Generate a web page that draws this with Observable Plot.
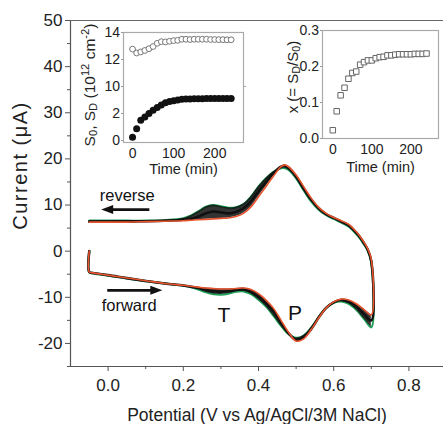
<!DOCTYPE html>
<html>
<head>
<meta charset="utf-8">
<script src="https://cdn.jsdelivr.net/npm/d3@7"></script>
<script src="https://cdn.jsdelivr.net/npm/@observablehq/plot@0.6"></script>
<style>
  html, body { margin: 0; padding: 0; background: #fff; }
  #chart { position: relative; width: 443px; height: 424px; overflow: hidden; font-family: 'Liberation Sans', Arial, sans-serif; }
  #chart svg { position: absolute; background: transparent; overflow: visible; }
</style>
</head>
<body>
<div id="chart"></div>
<script>
// ---------------- Main CV data (potential in V, current in µA) ----------------
const potentialFwd = [-0.05, -0.05, -0.04, 0.0, 0.05, 0.1, 0.15, 0.2, 0.22, 0.24, 0.26, 0.28, 0.3, 0.32, 0.34, 0.36, 0.38, 0.4, 0.42, 0.44, 0.46, 0.48, 0.5, 0.52, 0.54, 0.56, 0.58, 0.6, 0.62, 0.64, 0.66, 0.68, 0.7];
const currentFwdFirst = [0, -4.6, -4.8, -5.3, -5.9, -6.5, -7.0, -7.5, -7.8, -8.3, -8.9, -9.3, -9.4, -9.2, -8.8, -8.7, -9.3, -10.5, -12.0, -14.0, -16.2, -18.0, -18.8, -18.3, -16.6, -14.3, -12.3, -11.2, -10.9, -11.4, -12.7, -14.6, -16.5];
const currentFwdMid   = [0, -4.5, -4.75, -5.2, -5.85, -6.45, -7.0, -7.45, -7.7, -8.0, -8.4, -8.7, -8.8, -8.7, -8.4, -8.3, -8.8, -9.9, -11.3, -13.0, -15.5, -17.8, -19.2, -18.7, -16.9, -14.4, -12.3, -11.1, -10.6, -11.0, -12.0, -13.6, -15.0];
const currentFwdLast  = [0, -4.5, -4.7, -5.2, -5.8, -6.4, -7.0, -7.4, -7.6, -7.8, -8.0, -8.1, -8.2, -8.2, -8.1, -8.0, -8.3, -9.2, -10.6, -12.4, -15.0, -17.6, -19.5, -19.0, -17.0, -14.5, -12.3, -11.0, -10.4, -10.6, -11.4, -12.6, -13.8];

const potentialRev = [0.7, 0.69, 0.68, 0.67, 0.66, 0.64, 0.62, 0.6, 0.58, 0.56, 0.54, 0.52, 0.5, 0.48, 0.47, 0.46, 0.44, 0.42, 0.4, 0.38, 0.36, 0.34, 0.32, 0.3, 0.28, 0.26, 0.24, 0.22, 0.2, 0.15, 0.1, 0.05, 0.0, -0.05];
const currentRevFirst = [-2.5, 0.2, 1.5, 2.7, 3.7, 5.3, 6.2, 7.0, 7.8, 9.0, 10.8, 13.2, 15.8, 17.6, 18.0, 18.0, 17.2, 15.8, 14.0, 11.8, 10.2, 9.5, 9.4, 9.7, 10.0, 9.6, 8.6, 7.7, 7.1, 6.7, 6.6, 6.6, 6.6, 6.6];
const currentRevMid   = [-2.2, 0.4, 1.8, 3.0, 4.0, 5.6, 6.4, 7.2, 8.0, 9.3, 11.2, 13.6, 16.2, 18.1, 18.5, 18.3, 16.9, 15.0, 13.0, 10.8, 9.3, 8.5, 8.2, 8.4, 8.6, 8.2, 7.5, 7.0, 6.8, 6.6, 6.5, 6.45, 6.4, 6.4];
const currentRevLast  = [-1.8, 0.6, 2.0, 3.2, 4.2, 5.8, 6.6, 7.3, 8.2, 9.5, 11.5, 14.0, 16.5, 18.3, 18.7, 18.3, 16.3, 14.0, 11.8, 9.6, 8.2, 7.5, 7.2, 7.1, 7.0, 6.9, 6.8, 6.7, 6.6, 6.5, 6.4, 6.3, 6.3, 6.3];

const xTicks = [0, 0.2, 0.4, 0.6, 0.8];
const xMinorTicks = [0.1, 0.3, 0.5, 0.7];
const yTicks = [-20, -10, 0, 10, 20, 30, 40, 50];
const yMinorTicks = [-25, -15, -5, 5, 15, 25, 35, 45];

// annotations (data coordinates)
const labels = [
  {x: 0.051, y: 12.1, text: "reverse", size: 16.5},
  {x: 0.056, y: -11.9, text: "forward", size: 16.5},
  {x: 0.308, y: -13.9, text: "T", size: 21},
  {x: 0.497, y: -13.5, text: "P", size: 21}
];
const arrows = [
  {x1: 0.111, x2: -0.017, y: 8.9},
  {x1: -0.001, x2: 0.1455, y: -8.6}
];

// ---------------- Inset data ----------------
const timeMin = [0, 10, 20, 30, 40, 50, 60, 70, 80, 90, 100, 110, 120, 130, 140, 150, 160, 170, 180, 190, 200, 210, 220, 230, 240];
const S0 = [12.77, 12.48, 12.56, 12.67, 12.8, 12.96, 13.2, 13.32, 13.3, 13.35, 13.4, 13.42, 13.5, 13.5, 13.48, 13.5, 13.5, 13.5, 13.5, 13.48, 13.48, 13.47, 13.47, 13.46, 13.46];
const SD = [0.25, 0.875, 1.5, 1.75, 2.0, 2.25, 2.45, 2.63, 2.8, 2.88, 2.95, 3.0, 3.05, 3.08, 3.08, 3.1, 3.1, 3.1, 3.12, 3.12, 3.12, 3.12, 3.12, 3.12, 3.12];
const xRatio = [0.023, 0.0756, 0.12, 0.141, 0.166, 0.182, 0.186, 0.205, 0.212, 0.217, 0.217, 0.223, 0.226, 0.227, 0.231, 0.231, 0.233, 0.234, 0.234, 0.234, 0.234, 0.235, 0.235, 0.235, 0.236];
const inset1TickValues = [0, 2, 10, 12, 14];
const inset2TickValues = [0, 0.1, 0.2, 0.3];
const timeTicks = [0, 100, 200];

// broken-axis mapping for inset 1: 0–4 shown directly, 10–14 shifted down to 4–8
const brk = v => (v >= 10 ? v - 6 : v);
const unbrk = v => (v >= 4 ? v + 6 : v);

// ---------------- Build ----------------
const FONT = "'Liberation Sans', Arial, sans-serif";
const GREEN = "#22a05a", RED = "#e8542e", BLACK = "#111";
const ns = "http://www.w3.org/2000/svg";

const fwdRows = potentialFwd.map((v, i) => ({v, first: currentFwdFirst[i], mid: currentFwdMid[i], last: currentFwdLast[i]}));
const revRows = potentialRev.map((v, i) => ({v, first: currentRevFirst[i], mid: currentRevMid[i], last: currentRevLast[i]}));
const cycle = key => [...fwdRows, ...revRows].map(d => ({v: d.v, i: d[key]}));

function arrowMark(list) {
  return (index, scales) => {
    const g = document.createElementNS(ns, "g");
    for (const a of list) {
      const x1 = scales.x(a.x1), x2 = scales.x(a.x2), y = scales.y(a.y);
      const dir = Math.sign(x2 - x1), hl = 12, hw = 4.5;
      const line = document.createElementNS(ns, "line");
      line.setAttribute("x1", x1); line.setAttribute("x2", x2 - dir * hl * 0.8);
      line.setAttribute("y1", y); line.setAttribute("y2", y);
      line.setAttribute("stroke", "#111"); line.setAttribute("stroke-width", 2.6);
      g.appendChild(line);
      const p = document.createElementNS(ns, "path");
      p.setAttribute("d", `M${x2},${y}L${x2 - dir * hl},${y - hw}L${x2 - dir * hl},${y + hw}Z`);
      p.setAttribute("fill", "#111");
      g.appendChild(p);
    }
    return g;
  };
}

const main = Plot.plot({
  width: 443, height: 424,
  marginLeft: 70, marginTop: 20, marginRight: 0, marginBottom: 58,
  style: {fontFamily: FONT, fontSize: "17px", color: "#222", background: "transparent", overflow: "visible"},
  x: {domain: [-0.1, 0.892]},
  y: {domain: [-25, 50]},
  marks: [
    Plot.ruleX([-0.1], {stroke: "#555", strokeWidth: 1.2}),
    Plot.ruleY([-25], {stroke: "#555", strokeWidth: 1.2}),
    Plot.ruleY([50], {stroke: "#666", strokeWidth: 1.2}),
    Plot.axisY({ticks: yTicks, tickSize: 5, tickPadding: 3, tickFormat: d => String(d), label: null, fontSize: 17, stroke: "#555"}),
    Plot.axisY({ticks: yMinorTicks, tickSize: 3, tickFormat: () => "", label: null, stroke: "#555"}),
    Plot.axisX({ticks: xTicks, tickSize: 5, tickPadding: 7, tickFormat: d3.format(".1f"), label: null, fontSize: 17, stroke: "#555"}),
    Plot.axisX({ticks: xMinorTicks, tickSize: 3, tickFormat: () => "", label: null, stroke: "#555"}),
    Plot.text(["Current (μA)"], {frameAnchor: "left", textAnchor: "middle", lineAnchor: "middle", dx: -50, dy: -28, rotate: -90, fontSize: 20, fill: "#222", className: "ylabel"}),
    Plot.text(["Potential (V vs Ag/AgCl/3M NaCl)"], {frameAnchor: "bottom", lineAnchor: "middle", dy: 49, fontSize: 17.5, fill: "#222"}),
    // CV cycles
    Plot.line(cycle("first"), {x: "v", y: "i", stroke: GREEN, strokeWidth: 2.2, curve: "catmull-rom"}),
    Plot.areaY(fwdRows, {x: "v", y1: "first", y2: "last", fill: BLACK, fillOpacity: 0.85, curve: "catmull-rom"}),
    Plot.areaY(revRows, {x: "v", y1: "first", y2: "last", fill: BLACK, fillOpacity: 0.85, curve: "catmull-rom"}),
    Plot.line(cycle("mid"), {x: "v", y: "i", stroke: BLACK, strokeWidth: 2.6, curve: "catmull-rom"}),
    Plot.line(cycle("last"), {x: "v", y: "i", stroke: RED, strokeWidth: 1.6, curve: "catmull-rom"}),
    // annotations
    Plot.text(labels.filter(d => d.size < 20), {x: "x", y: "y", text: "text", fontSize: 16.5, fill: "#111"}),
    Plot.text(labels.filter(d => d.size >= 20), {x: "x", y: "y", text: "text", fontSize: 21, fill: "#111"}),
    arrowMark(arrows)
  ]
});
main.style.left = "0px"; main.style.top = "0px";
d3.select(main).selectAll(".ylabel text").style("letter-spacing", "1.5px");
document.getElementById("chart").appendChild(main);

// ---------------- Inset 1 ----------------
const in1 = {left: 123, top: 32, w: 120, h: 110, ml: 40, mt: 6, mr: 4, mb: 40};
const rows1 = timeMin.map((t, i) => ({t, s0: brk(S0[i]), sd: brk(SD[i])}));
const inset1 = Plot.plot({
  width: in1.w + in1.ml + in1.mr, height: in1.h + in1.mt + in1.mb,
  marginLeft: in1.ml, marginTop: in1.mt, marginRight: in1.mr, marginBottom: in1.mb,
  style: {fontFamily: FONT, fontSize: "14px", color: "#222", background: "transparent", overflow: "visible"},
  x: {domain: [-22, 270]},
  y: {domain: [-0.148, 8]},
  marks: [
    Plot.frame({stroke: "#aaa", strokeWidth: 1.2}),
    Plot.axisY({ticks: inset1TickValues.map(brk), tickFormat: d => String(unbrk(d)), tickSize: 2, tickPadding: 1.5, label: null, stroke: "#999"}),
    Plot.axisY({ticks: [4], anchor: "right", tickSize: 2, tickFormat: () => "", label: null, stroke: "#aaa"}),
    Plot.axisX({ticks: timeTicks, tickSize: 0, tickPadding: 6, label: null}),
    Plot.text(["Time (min)"], {frameAnchor: "bottom", lineAnchor: "middle", dy: 27, fontSize: 14.5, fill: "#222"}),
    Plot.dot(rows1, {x: "t", y: "s0", r: 2.9, stroke: "#777", strokeWidth: 1, fill: "white"}),
    Plot.dot(rows1, {x: "t", y: "sd", r: 3.5, fill: "#111", stroke: "none"})
  ]
});
inset1.style.left = (in1.left - in1.ml) + "px"; inset1.style.top = (in1.top - in1.mt) + "px";
document.getElementById("chart").appendChild(inset1);

// ---------------- Inset 2 ----------------
const in2 = {left: 322, top: 30, w: 116, h: 108, ml: 40, mt: 6, mr: 4, mb: 40};
const rows2 = timeMin.map((t, i) => ({t, x: xRatio[i]}));
const inset2 = Plot.plot({
  width: in2.w + in2.ml + in2.mr, height: in2.h + in2.mt + in2.mb,
  marginLeft: in2.ml, marginTop: in2.mt, marginRight: in2.mr, marginBottom: in2.mb,
  style: {fontFamily: FONT, fontSize: "14px", color: "#222", background: "transparent", overflow: "visible"},
  x: {domain: [-26.4, 270.7]},
  y: {domain: [0, 0.3]},
  marks: [
    Plot.frame({stroke: "#aaa", strokeWidth: 1.2}),
    Plot.axisY({ticks: inset2TickValues, tickFormat: d3.format(".1f"), tickSize: 2, tickPadding: 1.5, label: null, stroke: "#999"}),
    Plot.axisX({ticks: timeTicks, tickSize: 0, tickPadding: 6, label: null}),
    Plot.text(["Time (min)"], {frameAnchor: "bottom", lineAnchor: "middle", dy: 29, fontSize: 14.5, fill: "#222"}),
    Plot.dot(rows2, {x: "t", y: "x", symbol: "square", r: 3.1, stroke: "#666", strokeWidth: 1, fill: "white"})
  ]
});
inset2.style.left = (in2.left - in2.ml) + "px"; inset2.style.top = (in2.top - in2.mt) + "px";
document.getElementById("chart").appendChild(inset2);

// rotated inset y-axis titles with sub/superscripts
function richLabel(svg, cx, cy, size, parts) {
  const t = d3.select(svg).append("text")
    .attr("transform", `translate(${cx},${cy}) rotate(-90)`)
    .attr("text-anchor", "middle").attr("dominant-baseline", "middle")
    .attr("font-size", size).attr("fill", "#222").attr("font-family", FONT);
  for (const [txt, kind] of parts) {
    const s = t.append("tspan").text(txt);
    if (kind === "sub") s.attr("font-size", size * 0.72).attr("baseline-shift", "-25%");
    if (kind === "sup") s.attr("font-size", size * 0.72).attr("baseline-shift", "45%");
  }
}
richLabel(inset1, 91 - (in1.left - in1.ml), 85 - (in1.top - in1.mt), 15.5, [
  ["S"], ["0", "sub"], [", S"], ["D", "sub"], [" (10"], ["12", "sup"], [" cm"], ["-2", "sup"], [")"]
]);
richLabel(inset2, 294 - (in2.left - in2.ml), 77 - (in2.top - in2.mt), 15, [
  ["x (= S"], ["D", "sub"], ["/S"], ["0", "sub"], [")"]
]);
</script>
</body>
</html>
